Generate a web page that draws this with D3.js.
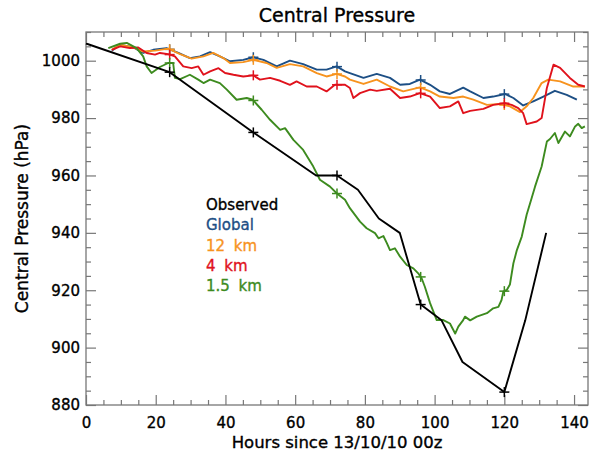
<!DOCTYPE html>
<html>
<head>
<meta charset="utf-8">
<script src="https://cdn.jsdelivr.net/npm/d3@7"></script>
<style>
  html, body { margin: 0; padding: 0; background: #fff; }
  svg { display: block; font-family: "DejaVu Sans", sans-serif; }
</style>
</head>
<body>
<svg id="chart" width="597" height="454"></svg>
<script>
// ---------------- DATA ----------------
const xTickValues = [0, 20, 40, 60, 80, 100, 120, 140];
const yTickValues = [880, 900, 920, 940, 960, 980, 1000];
const markerHours = [24, 48, 72, 96, 120];
const legendLabels = ["Observed", "Global", "12 km", "4 km", "1.5 km"];

const observedHours  = [0, 24, 48, 66, 72, 78, 84, 90, 96, 102, 108, 120, 126, 132];
const observedValues = [1006, 996, 975, 960, 960, 955, 945, 940, 915, 909.5, 895, 884.5, 909.5, 940];

const globalHours  = [7.4, 9.8, 13.6, 16.4, 19.3, 23.1, 26.5, 29.8, 32.7, 35.6, 38.4, 41.3, 45.1, 48.0, 50.9, 54.7, 58.5, 62.3, 66.2, 69.0, 71.9, 74.3, 75.7, 79.6, 83.4, 87.2, 90.1, 92.9, 95.8, 98.7, 101.5, 104.4, 108.2, 110.2, 114.0, 116.8, 120.2, 122.6, 125.4, 128.3, 131.2, 134.5, 137.9, 140.8];
const globalValues = [1003.5, 1005.6, 1004.6, 1002.7, 1003.8, 1004.4, 1002.7, 1000.9, 1001.5, 1003.0, 1001.5, 999.8, 1000.3, 1001.2, 1000.3, 998.0, 1000.0, 998.8, 996.9, 996.9, 998.0, 996.3, 995.7, 994.0, 995.4, 994.0, 991.6, 991.9, 993.4, 991.6, 989.3, 988.4, 990.6, 989.3, 987.0, 987.5, 988.4, 987.0, 984.4, 985.8, 987.5, 989.5, 988.1, 986.4];

const km12Hours  = [7.4, 9.8, 13.6, 16.4, 19.8, 23.6, 27.0, 30.3, 33.7, 36.5, 39.4, 41.3, 45.1, 48.0, 51.8, 54.7, 58.5, 62.3, 66.2, 69.0, 71.9, 74.3, 75.7, 79.6, 83.4, 87.2, 91.0, 95.8, 98.7, 101.5, 105.4, 108.2, 111.1, 115.0, 118.8, 121.6, 124.5, 126.4, 128.3, 130.7, 132.6, 136.0, 139.8, 143.1];
const km12Values = [1003.8, 1005.6, 1004.6, 1003.2, 1003.5, 1004.2, 1002.3, 1000.7, 1001.5, 1002.7, 1000.9, 999.2, 999.5, 1000.3, 999.2, 997.5, 998.8, 998.0, 995.7, 994.5, 995.4, 994.5, 993.4, 991.9, 993.4, 991.0, 989.3, 990.7, 989.3, 987.5, 987.0, 987.5, 986.4, 984.6, 984.9, 984.1, 982.1, 984.1, 987.0, 992.2, 993.4, 992.8, 991.0, 991.0];

const km4Hours  = [7.4, 9.8, 12.6, 15.0, 17.4, 19.8, 21.2, 23.6, 25.5, 27.9, 30.3, 32.2, 33.7, 35.6, 38.0, 39.9, 42.3, 45.1, 48.0, 49.9, 52.8, 55.7, 58.5, 60.4, 63.3, 66.2, 69.0, 71.4, 74.3, 75.7, 76.7, 78.6, 81.5, 83.4, 87.2, 90.1, 92.9, 95.8, 98.7, 101.5, 104.4, 106.8, 108.2, 110.2, 114.0, 116.8, 120.2, 122.1, 124.0, 125.4, 126.4, 129.3, 130.7, 132.2, 134.1, 136.0, 138.8, 141.2, 143.1];
const km4Values = [1003.8, 1005.0, 1004.4, 1004.6, 1002.7, 1002.1, 1002.7, 1002.3, 1001.5, 998.0, 997.4, 998.0, 995.1, 996.3, 997.4, 995.7, 995.1, 994.5, 994.9, 993.4, 994.0, 993.0, 991.6, 992.8, 991.0, 991.0, 989.3, 991.6, 991.6, 990.5, 987.0, 988.7, 989.9, 989.5, 990.2, 987.0, 987.5, 988.7, 987.5, 983.5, 984.1, 985.8, 981.7, 982.5, 983.2, 984.6, 985.2, 984.6, 983.5, 981.7, 977.9, 978.8, 980.0, 990.5, 998.6, 997.5, 994.0, 991.6, 991.0];

const km15Hours  = [6.4, 9.8, 11.7, 14.5, 16.4, 17.4, 18.8, 21.2, 23.6, 25.0, 25.5, 27.0, 29.8, 32.2, 33.7, 35.6, 38.4, 40.4, 43.2, 46.1, 47.8, 50.4, 52.8, 55.7, 57.1, 59.5, 62.3, 65.2, 67.1, 70.0, 71.9, 74.3, 75.7, 78.6, 80.5, 82.9, 83.9, 85.3, 86.3, 87.2, 88.6, 90.1, 92.0, 93.9, 95.3, 96.3, 97.2, 98.7, 100.6, 102.5, 104.4, 105.9, 106.8, 108.2, 108.7, 110.2, 112.1, 115.0, 116.8, 118.3, 119.2, 119.7, 120.7, 121.6, 122.6, 123.6, 125.0, 126.4, 127.8, 128.8, 130.7, 132.2, 133.1, 134.5, 135.5, 137.4, 138.8, 140.3, 141.2, 142.2, 143.1];
const km15Values = [1004.4, 1005.9, 1006.2, 1004.4, 1001.5, 998.0, 995.7, 997.8, 999.2, 999.2, 994.0, 993.6, 995.1, 993.4, 992.2, 993.4, 992.2, 989.9, 986.4, 987.0, 986.4, 982.9, 979.4, 975.9, 976.5, 972.4, 968.9, 963.1, 958.5, 956.1, 953.8, 951.5, 948.6, 943.9, 941.6, 939.9, 938.1, 938.9, 936.4, 934.0, 934.6, 931.7, 928.8, 927.6, 925.9, 924.1, 921.2, 915.5, 909.6, 909.6, 908.4, 904.9, 907.3, 909.6, 910.8, 909.5, 910.8, 912.0, 913.7, 914.2, 916.6, 919.5, 920.1, 922.0, 929.4, 934.0, 938.7, 946.3, 952.0, 956.1, 963.1, 971.8, 972.7, 974.8, 971.3, 975.3, 973.6, 977.1, 978.0, 976.5, 977.1];

// ---------------- LAYOUT ----------------
const W = 597, H = 454;
const M = { left: 86, right: 9, top: 32, bottom: 49 };
const pw = W - M.left - M.right, ph = H - M.top - M.bottom;
const colors = { obs: "#000000", global: "#1d4f85", km12: "#f7931e", km4: "#e0121c", km15: "#3d8b1f" };
const axisColor = "#777";

const svg = d3.select("#chart");
const g = svg.append("g").attr("transform", `translate(${M.left},${M.top})`);

const x = d3.scaleLinear().domain([0, 144]).range([0, pw]);
const y = d3.scaleLinear().domain([880, 1010]).range([ph, 0]);

const xMinor = d3.range(0, 145, 5).filter(v => v % 20 !== 0);
const yMinor = d3.range(880, 1011, 5).filter(v => v % 20 !== 0);

function styleAxis(sel) {
  sel.select(".domain").remove();
  sel.selectAll(".tick line").attr("stroke", axisColor).attr("stroke-width", 1.2);
  sel.selectAll("text").attr("fill", "#000").attr("stroke", "#000").attr("stroke-width", 0.35)
    .style("font-size", "15px").style("font-family", "DejaVu Sans, sans-serif");
}

// bottom
g.append("g").attr("transform", `translate(0,${ph})`)
  .call(d3.axisBottom(x).tickValues(xTickValues).tickSize(-10).tickPadding(12).tickFormat(d3.format("d")))
  .call(styleAxis);
g.append("g").attr("transform", `translate(0,${ph})`)
  .call(d3.axisBottom(x).tickValues(xMinor).tickSize(-5).tickFormat(""))
  .call(styleAxis);
// top
g.append("g").call(d3.axisBottom(x).tickValues(xTickValues).tickSize(10).tickFormat("")).call(styleAxis);
g.append("g").call(d3.axisBottom(x).tickValues(xMinor).tickSize(5).tickFormat("")).call(styleAxis);
// left
g.append("g")
  .call(d3.axisLeft(y).tickValues(yTickValues).tickSize(-10).tickPadding(6).tickFormat(d3.format("d")))
  .call(styleAxis);
g.append("g").call(d3.axisLeft(y).tickValues(yMinor).tickSize(-5).tickFormat("")).call(styleAxis);
// right
g.append("g").attr("transform", `translate(${pw},0)`)
  .call(d3.axisLeft(y).tickValues(yTickValues).tickSize(10).tickFormat("")).call(styleAxis);
g.append("g").attr("transform", `translate(${pw},0)`)
  .call(d3.axisLeft(y).tickValues(yMinor).tickSize(5).tickFormat("")).call(styleAxis);

// frame
g.append("rect").attr("x", 0).attr("y", 0).attr("width", pw).attr("height", ph)
  .attr("fill", "none").attr("stroke", axisColor).attr("stroke-width", 1.3);

// ---------------- SERIES ----------------
const series = [
  { key: "global", hours: globalHours, values: globalValues, color: colors.global },
  { key: "km12", hours: km12Hours, values: km12Values, color: colors.km12 },
  { key: "km4", hours: km4Hours, values: km4Values, color: colors.km4 },
  { key: "km15", hours: km15Hours, values: km15Values, color: colors.km15 },
  { key: "obs", hours: observedHours, values: observedValues, color: colors.obs }
];

const line = d3.line().x(d => x(d[0])).y(d => y(d[1]));

function valueAt(hours, values, h) {
  for (let i = 0; i < hours.length - 1; i++) {
    if (h >= hours[i] && h <= hours[i + 1]) {
      const t = (h - hours[i]) / (hours[i + 1] - hours[i]);
      return values[i] + t * (values[i + 1] - values[i]);
    }
  }
  return null;
}

series.forEach(s => {
  const pts = s.hours.map((h, i) => [h, s.values[i]]);
  g.append("path").datum(pts)
    .attr("fill", "none").attr("stroke", s.color)
    .attr("stroke-width", 1.9)
    .attr("stroke-linejoin", "round")
    .attr("d", line);
  const marks = markerHours.map(h => [h, valueAt(s.hours, s.values, h)]).filter(d => d[1] !== null);
  const mg = g.append("g");
  marks.forEach(d => {
    const cx = x(d[0]), cy = y(d[1]), r = 5;
    mg.append("line").attr("x1", cx - r).attr("x2", cx + r).attr("y1", cy).attr("y2", cy)
      .attr("stroke", s.color).attr("stroke-width", 1.5);
    mg.append("line").attr("x1", cx).attr("x2", cx).attr("y1", cy - r).attr("y2", cy + r)
      .attr("stroke", s.color).attr("stroke-width", 1.5);
  });
});

// ---------------- TEXT ----------------
function heavy(sel, c) { return sel.attr("fill", c).attr("stroke", c).attr("stroke-width", 0.35); }

heavy(svg.append("text").attr("x", M.left + pw / 2).attr("y", 22).attr("text-anchor", "middle")
  .style("font-size", "19px"), "#000").text("Central Pressure");

heavy(svg.append("text").attr("x", M.left + pw / 2).attr("y", 448).attr("text-anchor", "middle")
  .style("font-size", "16.5px"), "#000").text("Hours since 13/10/10 00z");

heavy(svg.append("text").attr("transform", `translate(28,${M.top + ph / 2}) rotate(-90)`)
  .attr("text-anchor", "middle")
  .style("font-size", "17px"), "#000").text("Central Pressure (hPa)");

const legendColors = [colors.obs, colors.global, colors.km12, colors.km4, colors.km15];
legendLabels.forEach((lab, i) => {
  heavy(svg.append("text").attr("x", 206).attr("y", 210 + i * 20.3)
    .style("font-size", "15px").style("word-spacing", "4px"), legendColors[i]).text(lab);
});
</script>
</body>
</html>
